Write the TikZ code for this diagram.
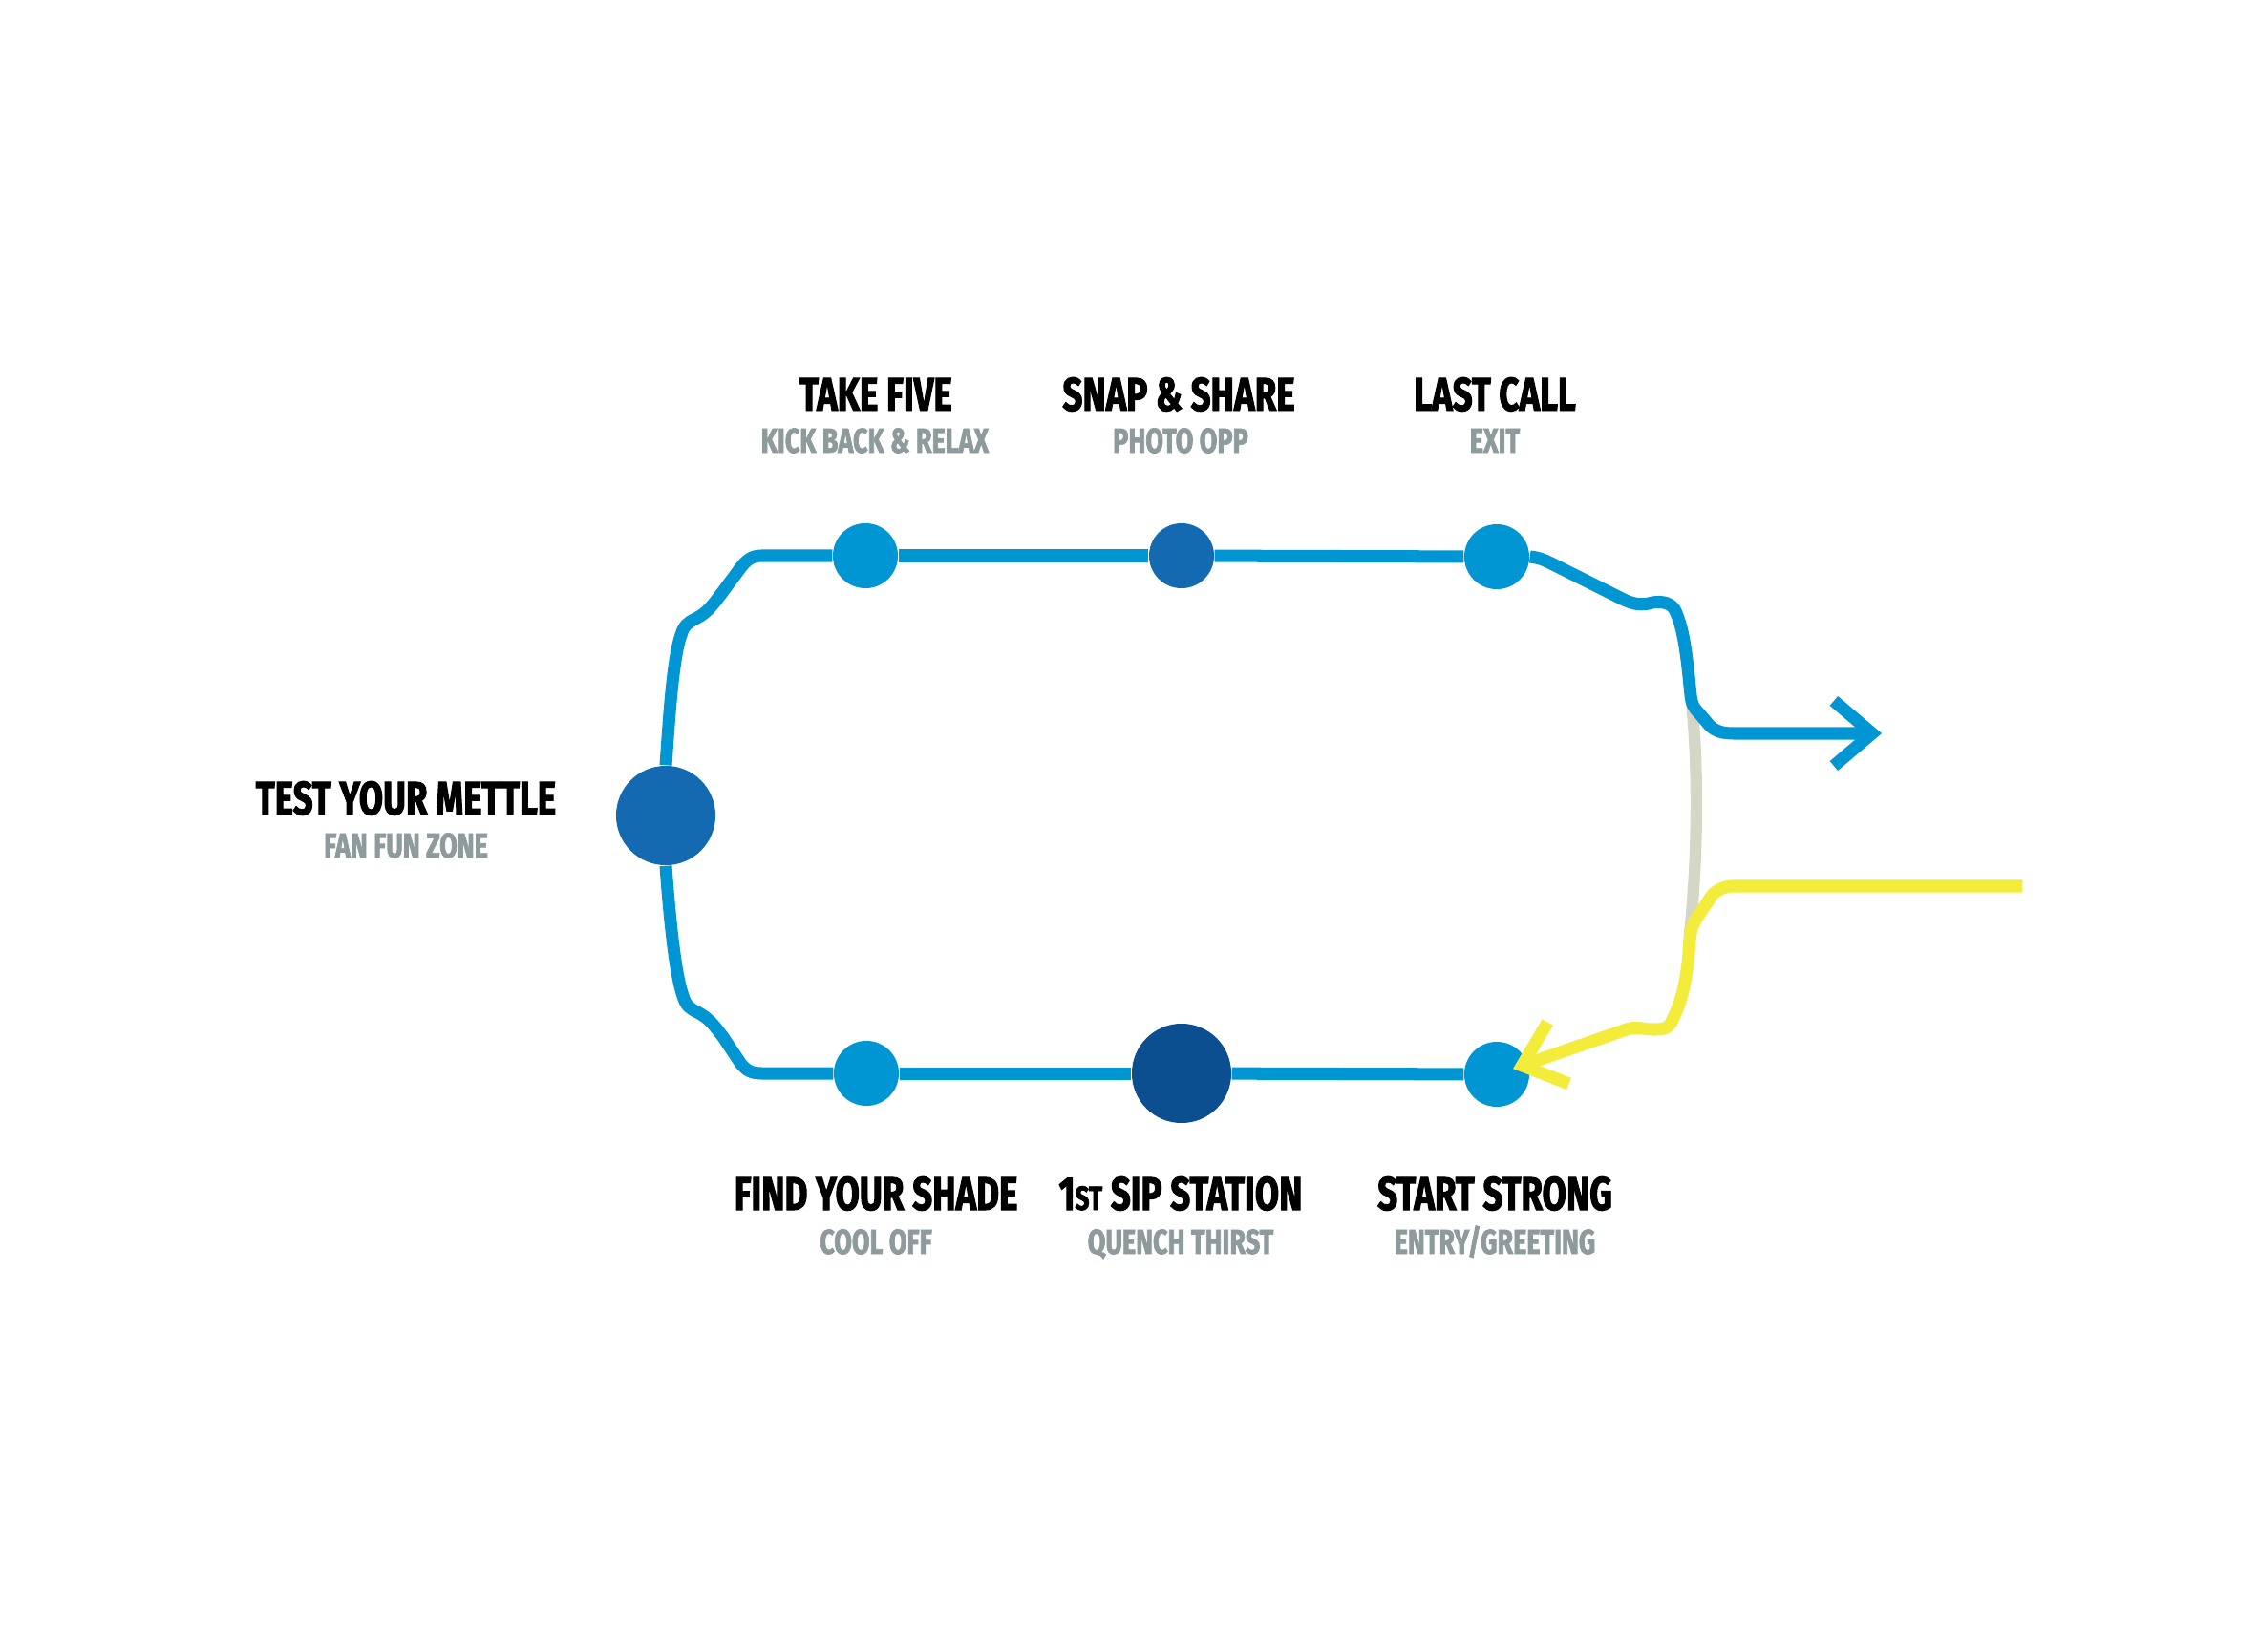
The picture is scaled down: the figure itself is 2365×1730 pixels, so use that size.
\documentclass[tikz,border=0pt]{standalone}
\usepackage{fontspec}
\usepackage{xcolor}
\usepackage{tikz}
\usetikzlibrary{arrows.meta}
\newfontfamily\rotulo{Fira Sans}[FakeStretch=0.745, BoldFeatures={FakeBold=2}]
\definecolor{linea}{HTML}{0095D3}
\definecolor{medio}{HTML}{136AB1}
\definecolor{oscuro}{HTML}{0C4F90}
\definecolor{amarillo}{HTML}{F3EC3A}
\definecolor{grisclaro}{HTML}{D4D6C6}
\definecolor{gristexto}{HTML}{8E9B9D}

\begin{document}
\begin{tikzpicture}[x=0.01cm, y=-0.01cm,
      parada/.style={circle, fill=linea, inner sep=0pt, minimum size=0.68cm},
      paradag/.style={parada, minimum size=1.04cm},
      titulo/.style={anchor=base, inner sep=0pt, text=black,
                     font=\rotulo\bfseries\fontsize{14}{14}\selectfont},
      subtitulo/.style={anchor=base, inner sep=0pt, text=gristexto,
                        font=\rotulo\bfseries\fontsize{10.3}{10.3}\selectfont},
      ruta/.style={draw=linea, line width=3.7pt},
      amarilla/.style={draw=amarillo, line width=3.7pt},
      flecha/.style={-{Straight Barb[length=4mm, width=6.8mm]}}]

    \useasboundingbox (0,0) rectangle (2365,1730);

    % paradas
    \node[parada] (take) at (906,582) {};
    \node[parada, fill=medio] (snap) at (1237,582) {};
    \node[parada] (last) at (1567,583) {};
    \node[paradag, fill=medio] (mettle) at (697,854) {};
    \node[parada] (shade) at (907,1124) {};
    \node[paradag, fill=oscuro] (sip) at (1237,1124) {};
    \node[parada] (start) at (1567,1125) {};

    \coordinate (salida) at (1970,768);
    \coordinate (entrada) at (2117,928);
    \coordinate (gris-a) at (1771,735);
    \coordinate (gris-b) at (1768,988);

    % rotulos
    \node[titulo] (t-take) at (917,430) {TAKE FIVE};
    \node[subtitulo] (s-take) at (916,474) {KICK BACK \& RELAX};
    \node[titulo] (t-snap) at (1234,430) {SNAP \& SHARE};
    \node[subtitulo] (s-snap) at (1236,474) {PHOTO OPP};
    \node[titulo] (t-last) at (1565,430) {LAST CALL};
    \node[subtitulo] (s-last) at (1565,474) {EXIT};
    \node[titulo] (t-mettle) at (425,853) {TEST YOUR METTLE};
    \node[subtitulo] (s-mettle) at (425,898) {FAN FUN ZONE};
    \node[titulo] (t-shade) at (917,1267) {FIND YOUR SHADE};
    \node[subtitulo] (s-shade) at (917,1313) {COOL OFF};
    \node[titulo] (t-sip) at (1236,1267) {1{\fontsize{10}{10}\selectfont ST} SIP STATION};
    \node[subtitulo] (s-sip) at (1236,1313) {QUENCH THIRST};
    \node[titulo] (t-start) at (1565,1267) {START STRONG};
    \node[subtitulo] (s-start) at (1565,1313) {ENTRY/GREETING};

    % recorrido
    \draw[draw=grisclaro, line width=3.5pt] (gris-a) .. controls (1778,800) and (1778,900) .. (gris-b);

    \draw[ruta] (take) -- (snap);
    \draw[ruta] (snap) -- (last);
    \draw[ruta] (shade) -- (sip);
    \draw[ruta] (sip) -- (start);
    \draw[ruta] (mettle.north) .. controls (700,760) and (704,690) .. (713,665)
        .. controls (716,655) and (720,652) .. (728,648)
        .. controls (740,642) and (745,635) .. (755,622) -- (775,595)
        .. controls (781,587) and (787,582) .. (797,582) -- (take);
    \draw[ruta] (mettle.south) .. controls (700,948) and (706,1018) .. (715,1043)
        .. controls (718,1053) and (722,1056) .. (730,1060)
        .. controls (742,1066) and (747,1073) .. (757,1086) -- (775,1113)
        .. controls (781,1121) and (787,1124) .. (797,1124) -- (shade);
    \draw[ruta, flecha] (last.east) .. controls (1612,584) and (1618,587) .. (1626,591)
        -- (1698,627) .. controls (1708,632) and (1716,634) .. (1726,632)
        .. controls (1736,629) and (1748,630) .. (1753,638)
        .. controls (1764,658) and (1767,700) .. (1770,728)
        .. controls (1771,738) and (1774,742) .. (1778,746) -- (1790,760)
        .. controls (1796,766) and (1804,768) .. (1815,768) -- (salida);
    \draw[amarilla, flecha, shorten >=0.18cm] (entrada) -- (1815,928)
        .. controls (1805,928) and (1797,932) .. (1792,938) -- (1776,962)
        .. controls (1771,970) and (1770,975) .. (1769,985)
        .. controls (1766,1030) and (1760,1050) .. (1750,1070)
        .. controls (1746,1078) and (1740,1078) .. (1730,1078)
        .. controls (1720,1078) and (1712,1074) .. (1700,1079) -- (start.center);
  \end{tikzpicture}
\end{document}
